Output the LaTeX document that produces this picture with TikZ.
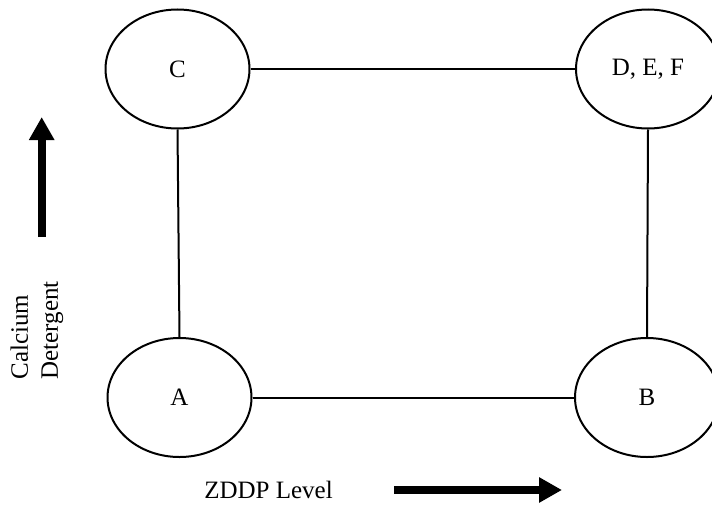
\documentclass[tikz,border=0pt]{standalone}
\usepackage{fontspec}
\setmainfont{Liberation Serif}
\usetikzlibrary{shapes.geometric,arrows.meta}
\begin{document}
\begin{tikzpicture}[x=1pt,y=-1pt,
  oval/.style={draw, ellipse, line width=2pt, minimum width=144pt, minimum height=119pt, inner sep=0pt, font=\fontsize{25}{30}\selectfont},
  link/.style={line width=2pt},
  bigarrow/.style={line width=8pt, -{Triangle[length=23pt,width=24pt]}},
  lbl/.style={font=\fontsize{25}{30}\selectfont, inner sep=0pt}]
\useasboundingbox (0,0) rectangle (712,506);
\node[oval] (C) at (177.5,69) {C};
\node[oval] (D) at (648,69) {D, E, F};
\node[oval] (A) at (179.5,397.5) {A};
\node[oval] (B) at (647,397.5) {B};
\draw[link] (C.east) -- (D.west);
\draw[link] (A.east) -- (B.west);
\draw[link] (C.south) -- (A.north);
\draw[link] (D.south) -- (B.north);
\coordinate (v0) at (41.7,237);
\coordinate (v1) at (41.7,117);
\draw[bigarrow] (v0) -- (v1);
\coordinate (h0) at (394,490);
\coordinate (h1) at (562,490);
\draw[bigarrow] (h0) -- (h1);
\node[lbl, rotate=90, align=left] (cd) at (37,330.5) {Calcium\\Detergent};
\node[lbl] (zl) at (268.5,490) {ZDDP Level};
\end{tikzpicture}
\end{document}
